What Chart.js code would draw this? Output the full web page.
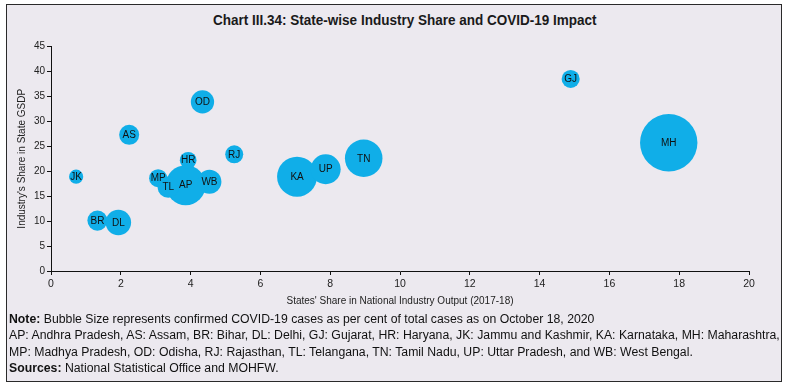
<!DOCTYPE html>
<html>
<head>
<meta charset="utf-8">
<script src="https://cdn.jsdelivr.net/npm/chart.js@4.4.1/dist/chart.umd.min.js"></script>
<style>
  html, body { margin: 0; padding: 0; background: #ffffff; }
  body { width: 788px; height: 387px; position: relative; overflow: hidden; }
  #frame { position: absolute; left: 6px; top: 4px; width: 776px; height: 378px; box-sizing: border-box;
           border: 1.5px solid #2a2a2a; background: #ECE9EF; }
  .narrow { font-family: "Liberation Sans", Arial, sans-serif; white-space: nowrap; display: inline-block;
            transform-origin: 0 50%; }
  #title { position: absolute; left: 213px; top: 11px; font-weight: bold; font-size: 14px; color: #1a1a1a; line-height: 18px; }
  #chartWrap { position: absolute; left: 0; top: 0; width: 788px; height: 312px; }
  #notes { position: absolute; left: 9px; top: 311px; font-size: 12.5px; line-height: 16.3px; color: #111; }
  #notes > div { height: 16.3px; }
  #notes b { font-weight: bold; }
</style>
</head>
<body>
<div id="frame"></div>
<div id="title" class="narrow" data-w="384">Chart III.34: State-wise Industry Share and COVID-19 Impact</div>
<div id="chartWrap"><canvas id="c" width="788" height="312"></canvas></div>
<div id="notes">
  <div><span class="narrow nl">  <b>Note:</b> Bubble Size represents confirmed COVID-19 cases as per cent of total cases as on October 18, 2020</span></div>
  <div><span class="narrow nl" id="refLine">AP: Andhra Pradesh, AS: Assam, BR: Bihar, DL: Delhi, GJ: Gujarat, HR: Haryana, JK: Jammu and Kashmir, KA: Karnataka, MH: Maharashtra,</span></div>
  <div><span class="narrow nl">MP: Madhya Pradesh, OD: Odisha, RJ: Rajasthan, TL: Telangana, TN: Tamil Nadu, UP: Uttar Pradesh, and WB: West Bengal.</span></div>
  <div><span class="narrow nl"><b>Sources:</b> National Statistical Office and MOHFW.</span></div>
</div>
<script>
// ---- Data ----
const states = ['AP','AS','BR','DL','GJ','HR','JK','KA','MH','MP','OD','RJ','TL','TN','UP','WB'];
// States' share in national industry output (2017-18), per cent
const nationalShare = [3.86, 2.24, 1.33, 1.93, 14.89, 3.93, 0.72, 7.05, 17.70, 3.07, 4.34, 5.25, 3.36, 8.96, 7.87, 4.54];
// Industry's share in state GSDP, per cent
const industryShare = [17.2, 27.3, 10.1, 9.7, 38.5, 22.2, 18.9, 18.9, 25.7, 18.6, 33.9, 23.4, 16.8, 22.6, 20.4, 17.9];
// Confirmed COVID-19 cases as per cent of total cases (Oct 18, 2020)
const caseShare = [10.3, 2.6, 2.6, 4.2, 2.1, 1.8, 1.3, 10.3, 21.3, 2.1, 3.5, 2.1, 2.9, 9.1, 5.8, 3.7];
const xTicks = { min: 0, max: 20, step: 2 };
const yTicks = { min: 0, max: 45, step: 5 };

// fit condensed text lines to the reference widths
(function fitText() {
  const t = document.getElementById('title');
  t.style.transform = 'scaleX(' + (384 / t.offsetWidth) + ')';
  const ref = document.getElementById('refLine');
  const k = 771 / ref.offsetWidth;
  document.querySelectorAll('.nl').forEach(el => { el.style.transform = 'scaleX(' + k + ')'; });
})();

const SANS = '"Liberation Sans", Arial, sans-serif';
const BUBBLE_SCALE = 6.22; // px radius per sqrt(percent): bubble area proportional to case share

const points = states.map((s, i) => ({ x: nationalShare[i], y: industryShare[i], r: BUBBLE_SCALE * Math.sqrt(caseShare[i]) }));

const labelPlugin = {
  id: 'bubbleLabels',
  afterDatasetsDraw(chart) {
    const ctx = chart.ctx;
    const meta = chart.getDatasetMeta(0);
    ctx.save();
    ctx.font = '10px ' + SANS;
    ctx.fillStyle = '#111';
    ctx.textAlign = 'center';
    ctx.textBaseline = 'middle';
    meta.data.forEach((el, i) => {
      ctx.fillText(states[i], el.x, el.y + 0.5);
    });
    ctx.restore();
  }
};

new Chart(document.getElementById('c'), {
  type: 'bubble',
  data: {
    datasets: [{
      label: 'States',
      data: points,
      backgroundColor: '#10AEE8',
      borderColor: '#10AEE8',
      borderWidth: 0,
      hoverRadius: 0
    }]
  },
  options: {
    responsive: false,
    animation: false,
    events: [],
    layout: { padding: { top: 46.5, right: 39, left: 0, bottom: 0 } },
    plugins: { legend: { display: false }, tooltip: { enabled: false }, title: { display: false } },
    scales: {
      x: {
        type: 'linear', min: xTicks.min, max: xTicks.max,
        ticks: { stepSize: xTicks.step, color: '#222', font: { family: SANS, size: 10.5 }, padding: 3 },
        grid: { display: true, drawOnChartArea: false, drawTicks: true, tickLength: 4, color: '#111' },
        border: { display: true, color: '#111', width: 1 },
        title: { display: true, text: "States' Share in National Industry Output (2017-18)", color: '#222',
                 font: { family: SANS, size: 10 }, padding: { top: 4, bottom: 5 } },
        afterFit(scale) { scale.height = 41; }
      },
      y: {
        type: 'linear', min: yTicks.min, max: yTicks.max,
        ticks: { stepSize: yTicks.step, color: '#222', font: { family: SANS, size: 10 }, padding: 2 },
        grid: { display: true, drawOnChartArea: false, drawTicks: true, tickLength: 4, color: '#111' },
        border: { display: true, color: '#111', width: 1 },
        title: { display: true, text: "Industry's Share in State GSDP", color: '#222',
                 font: { family: SANS, size: 10 }, padding: { top: 16, bottom: 4 } },
        afterFit(scale) { scale.width = 51; }
      }
    }
  },
  plugins: [labelPlugin]
});
</script>
</body>
</html>
